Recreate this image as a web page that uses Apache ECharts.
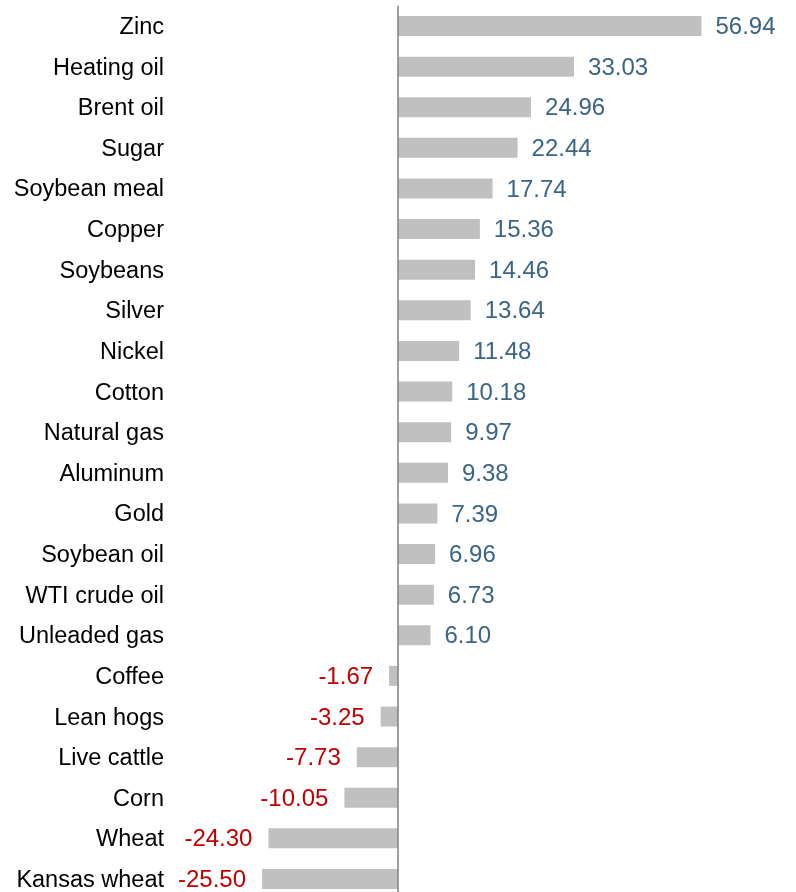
<!DOCTYPE html>
<html>
<head>
<meta charset="utf-8">
<script src="https://cdn.jsdelivr.net/npm/echarts@6/dist/echarts.min.js"></script>
<style>
  html, body { margin: 0; padding: 0; background: #ffffff; }
  #chart { width: 796px; height: 892px; }
</style>
</head>
<body>
<div id="chart"></div>
<script>
// Commodity returns, top to bottom
const categories = [
  'Zinc', 'Heating oil', 'Brent oil', 'Sugar', 'Soybean meal', 'Copper',
  'Soybeans', 'Silver', 'Nickel', 'Cotton', 'Natural gas', 'Aluminum',
  'Gold', 'Soybean oil', 'WTI crude oil', 'Unleaded gas', 'Coffee',
  'Lean hogs', 'Live cattle', 'Corn', 'Wheat', 'Kansas wheat'
];
const values = [
  56.94, 33.03, 24.96, 22.44, 17.74, 15.36,
  14.46, 13.64, 11.48, 10.18, 9.97, 9.38,
  7.39, 6.96, 6.73, 6.10, -1.67,
  -3.25, -7.73, -10.05, -24.30, -25.50
];

const FONT = '"Liberation Sans", Arial, sans-serif';
const POS_COLOR = '#3b6585';
const NEG_COLOR = '#c00000';

const chart = echarts.init(document.getElementById('chart'), null, { renderer: 'canvas' });

const barData = values.map(v => ({
  value: v,
  label: {
    position: v >= 0 ? 'right' : 'left',
    distance: v >= 0 ? 14 : 16,
    color: v >= 0 ? POS_COLOR : NEG_COLOR
  }
}));

chart.setOption({
  animation: false,
  backgroundColor: '#ffffff',
  grid: {
    left: 259.4, width: 511.7, top: 5.7, height: 893.6,
    containLabel: false,
    outerBoundsMode: 'none'
  },
  xAxis: {
    type: 'value',
    min: -26,
    max: 70,
    show: false
  },
  yAxis: {
    type: 'category',
    data: categories,
    inverse: true,
    axisLine: { show: false, onZero: false },
    axisTick: { show: false },
    splitLine: { show: false },
    axisLabel: {
      margin: 95.4,
      formatter: v => '{c|' + v + '}',
      rich: {
        c: {
          color: '#000000',
          fontSize: 23.5,
          fontFamily: FONT,
          padding: [3, 0, 0, 0]
        }
      }
    }
  },
  series: [{
    type: 'bar',
    data: barData,
    barWidth: 20,
    itemStyle: { color: '#c0c0c0' },
    label: {
      show: true,
      fontSize: 24,
      fontFamily: FONT,
      offset: [0, 1.5],
      formatter: p => p.value.toFixed(2)
    },
    markLine: {
      silent: true,
      symbol: 'none',
      label: { show: false },
      lineStyle: { color: '#808080', width: 1.5, type: 'solid' },
      data: [{ xAxis: 0 }]
    }
  }]
});
</script>
</body>
</html>
